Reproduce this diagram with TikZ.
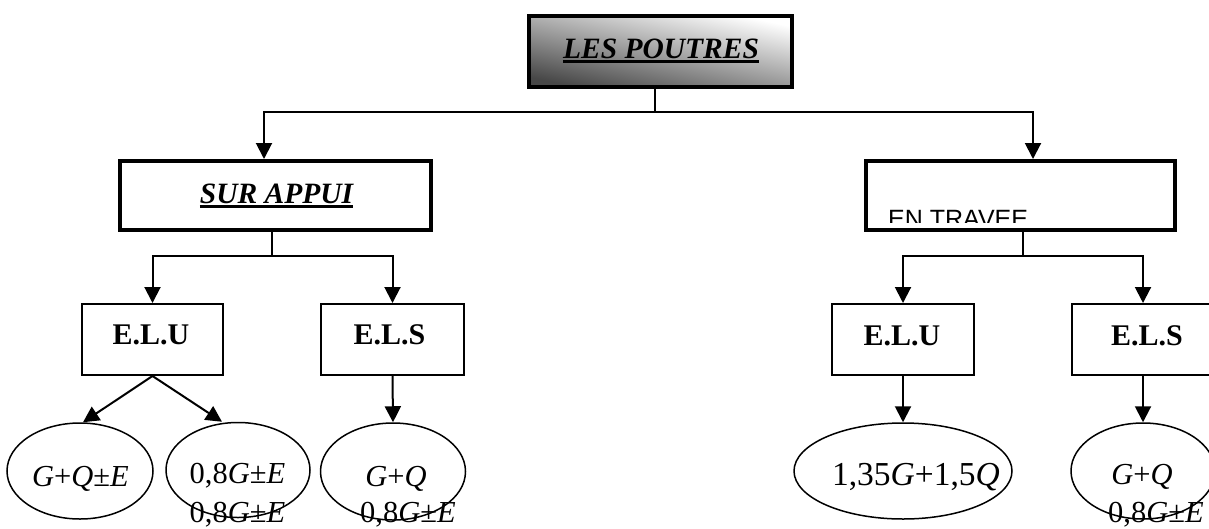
\documentclass[tikz,border=0pt]{standalone}
\usepackage{fontspec}
\setmainfont{Liberation Serif}
\newfontfamily\labelsans{Liberation Sans}
\usetikzlibrary{arrows.meta,shapes.geometric}

% word with a heavy underline
\newcommand\ulword[1]{\setbox0\hbox{#1}\rlap{\rule[-4.5pt]{\wd0}{2.5pt}}\box0}

\begin{document}
\begin{tikzpicture}[x=1pt,y=-1pt,
  heavybox/.style={draw, line width=4pt, inner sep=0pt, minimum height=69pt},
  casebox/.style={draw, line width=2pt, inner sep=0pt, minimum height=71pt},
  combo/.style={draw, ellipse, line width=1.5pt, inner sep=0pt, minimum height=96pt},
  headtext/.style={anchor=base, inner sep=0pt, font=\fontsize{29.5}{34}\selectfont\bfseries\itshape},
  casetext/.style={anchor=base, inner sep=0pt, font=\fontsize{30}{34}\selectfont\bfseries},
  formula/.style={anchor=base, inner sep=0pt, font=\fontsize{30.5}{36}\selectfont},
  link/.style={line width=1.8pt},
  arrowlink/.style={line width=2pt, -{Triangle[width=16pt,length=16pt]}}]

\clip (0,0) rectangle (1209,528);
\useasboundingbox (0,0) rectangle (1209,528);

% main title
\node[draw, line width=4pt, inner sep=0pt, minimum width=263pt, minimum height=71pt,
      top color=black!72, bottom color=white, shading angle=168] (top) at (660.5,51.5) {};
\node[headtext] (toptxt) at (661,58) {\ulword{LES POUTRES}};

% the two cases
\node[heavybox, minimum width=311pt] (sur) at (275.5,195.5) {};
\node[headtext] (surtxt) at (276.5,203) {\ulword{SUR APPUI}};
\node[heavybox, minimum width=309pt] (trav) at (1020.5,195.5) {};
\begin{scope}
  \clip (868,165) rectangle (1172,222);
  \node[anchor=base west, inner sep=0pt, font=\labelsans\fontsize{25}{28}\selectfont] (travtxt) at (888,227) {EN TRAVEE};
\end{scope}

% limit states
\node[casebox, minimum width=141pt] (eluL) at (152.5,339.5) {};
\node[casebox, minimum width=143pt] (elsL) at (392.5,339.5) {};
\node[casebox, minimum width=142pt] (eluR) at (903,339.5) {};
\node[casebox, minimum width=142pt] (elsR) at (1143,339.5) {};
\node[casetext] (eluLtxt) at (151,344) {E.L.U};
\node[casetext] (elsLtxt) at (389.5,344) {E.L.S};
\node[casetext] (eluRtxt) at (902,345) {E.L.U};
\node[casetext] (elsRtxt) at (1147,345) {E.L.S};

% load combinations
\node[combo, minimum width=146pt] (ell1) at (80,471) {};
\node[combo, minimum width=144pt, minimum height=95pt] (ell2) at (238,470) {};
\node[combo, minimum width=145pt, minimum height=97pt] (ell3) at (393,471.5) {};
\node[combo, minimum width=218pt] (ell4) at (903,471) {};
\node[combo, minimum width=144pt] (ell5) at (1143,471) {};

\node[formula] (f1) at (80.5,486) {\textit{G}+\textit{Q}±\textit{E}};
\node[formula] (f2a) at (237.5,483) {0,8\textit{G}±\textit{E}};
\node[formula] (f2b) at (237.5,522) {0,8\textit{G}±\textit{E}};
\node[formula] (f3a) at (396,486) {\textit{G}+\textit{Q}};
\node[formula] (f3b) at (408,522) {0,8\textit{G}±\textit{E}};
\node[formula, font=\fontsize{33.5}{38}\selectfont] (f4) at (916,485) {1,35\textit{G}+1,5\textit{Q}};
\node[formula] (f5a) at (1142,484) {\textit{G}+\textit{Q}};
\node[formula, anchor=base west] (f5b) at (1108,522) {0,8\textit{G}±\textit{E}};

% connectors: title to cases
\coordinate (j0) at (655,112);
\draw[link] ([xshift=-5.5pt]top.south) -- (j0);
\draw[arrowlink] (j0) -| ([xshift=-11.5pt]sur.north);
\draw[arrowlink] (j0) -| ([xshift=12.5pt]trav.north);

% connectors: cases to limit states
\coordinate (j1) at (272,256);
\draw[link] ([xshift=-3.5pt]sur.south) -- (j1);
\draw[arrowlink] (j1) -| (eluL.north);
\draw[arrowlink] (j1) -| (elsL.north);
\coordinate (j2) at (1023,256);
\draw[link] ([xshift=2.5pt]trav.south) -- (j2);
\draw[arrowlink] (j2) -| (eluR.north);
\draw[arrowlink] (j2) -| (elsR.north);

% connectors: limit states to combinations
\draw[arrowlink] (eluL.south) -- ([xshift=3pt]ell1.north);
\draw[arrowlink] (eluL.south) -- ([xshift=-16pt]ell2.north);
\draw[arrowlink] (elsL.south) -- (ell3.north);
\draw[arrowlink] (eluR.south) -- (ell4.north);
\draw[arrowlink] (elsR.south) -- (ell5.north);
\end{tikzpicture}
\end{document}
